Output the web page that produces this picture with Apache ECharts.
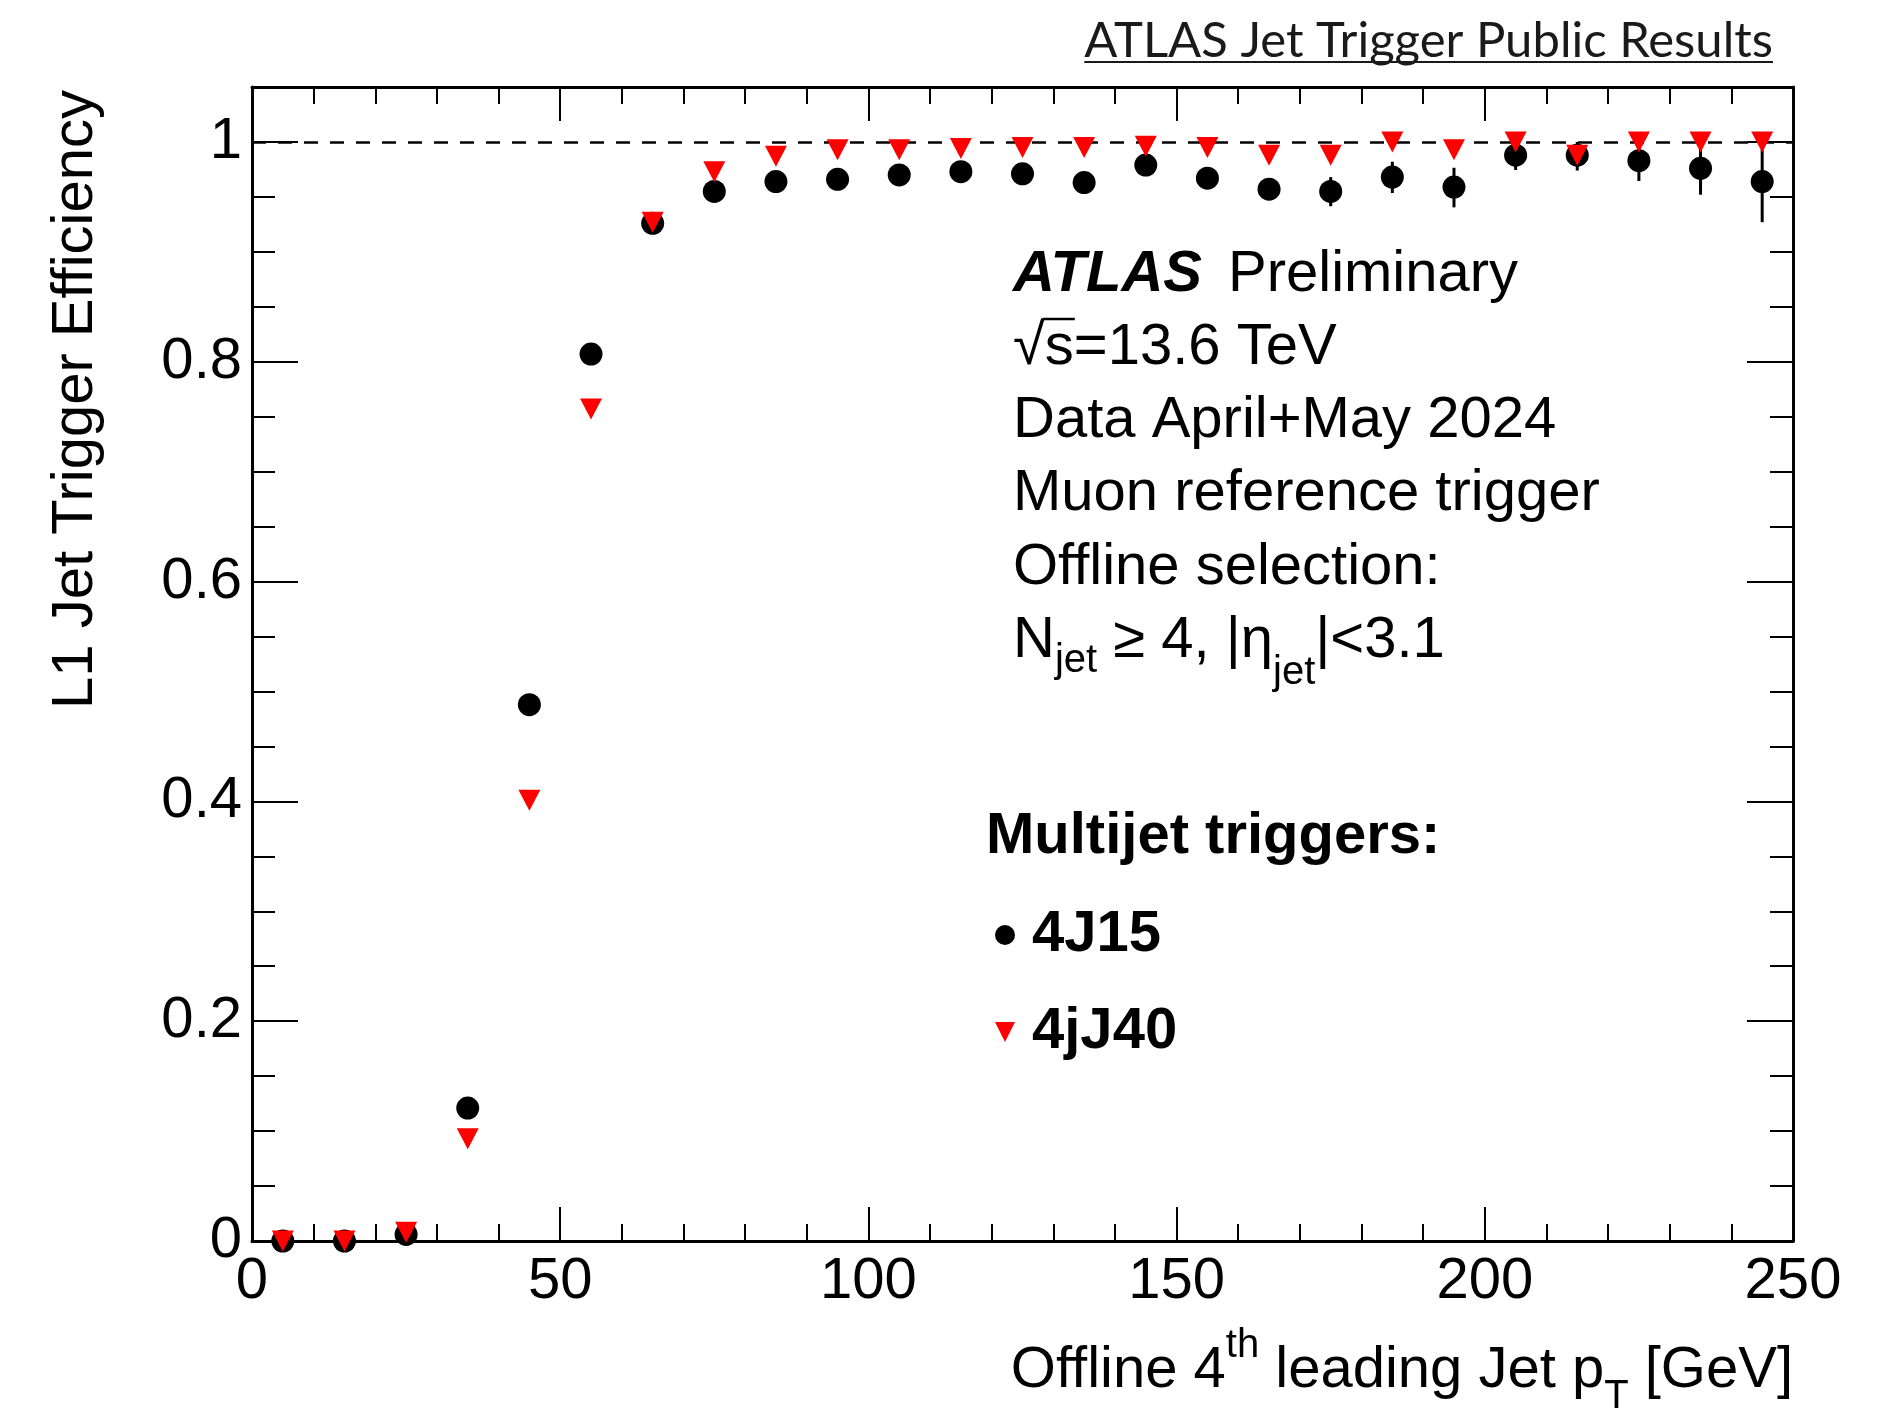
<!DOCTYPE html>
<html><head><meta charset="utf-8">
<script src="https://cdn.jsdelivr.net/npm/echarts@6/dist/echarts.min.js"></script>
<style>html,body{margin:0;padding:0;background:#fff}#c{width:1891px;height:1409px}</style>
</head><body><div id="c"></div>
<script>
// ---- data ----
const binCenters = [5,15,25,35,45,55,65,75,85,95,105,115,125,135,145,155,165,175,185,195,205,215,225,235,245];
const eff4J15 = [0.000,0.000,0.006,0.121,0.488,0.807,0.926,0.955,0.964,0.966,0.970,0.973,0.971,0.963,0.979,0.967,0.957,0.955,0.968,0.959,0.988,0.988,0.983,0.976,0.964];
const errLo4J15 = [0,0,0.003,0.005,0.006,0.006,0.005,0.005,0.005,0.005,0.005,0.006,0.006,0.007,0.007,0.008,0.009,0.0135,0.0145,0.0185,0.0135,0.014,0.0185,0.024,0.037];
const errHi4J15 = [0,0,0.003,0.005,0.006,0.006,0.005,0.005,0.005,0.005,0.005,0.006,0.006,0.007,0.007,0.008,0.009,0.013,0.014,0.0175,0.011,0.012,0.015,0.02,0.03];
const eff4jJ40 = [0.000,0.000,0.008,0.093,0.401,0.757,0.927,0.973,0.987,0.993,0.993,0.994,0.995,0.995,0.996,0.995,0.988,0.988,1.000,0.993,1.000,0.988,1.000,1.000,1.000];
const seriesNames = ['4J15','4jJ40'];
const xTickValues = [0,50,100,150,200,250];
const yTickValues = [0,0.2,0.4,0.6,0.8,1];
const yTickLabels = ['0','0.2','0.4','0.6','0.8','1'];

// ---- helpers ----
const FF = 'Liberation Sans';
const mctx = document.createElement('canvas').getContext('2d');
function fontStr(fs, fw, fst, ff){ return `${fst||'normal'} ${fw||'normal'} ${fs}px "${ff||FF}"`; }
function tw(t, fs, fw, fst, ff){ mctx.font = fontStr(fs,fw,fst,ff); mctx.textBaseline='alphabetic'; return mctx.measureText(t).width; }
function midOff(fs, fw, fst, ff){
  mctx.font = fontStr(fs,fw,fst,ff);
  mctx.textBaseline='alphabetic'; const a = mctx.measureText('H').actualBoundingBoxAscent;
  mctx.textBaseline='middle'; const b = mctx.measureText('H').actualBoundingBoxAscent;
  return a - b;
}
function txt(t, x, base, o){
  o = o||{};
  const fs=o.fs||58, fw=o.fw||'normal', fst=o.fst||'normal', ff=o.ff||FF;
  return {type:'text', x:x, y: base - midOff(fs,fw,fst,ff), z:100,
    style:{text:t, fontSize:fs, fontWeight:fw, fontStyle:fst, fontFamily:ff, fill:o.fill||'#000', align:o.align||'left', verticalAlign:'middle'}};
}
function run(parts, x, base, align){
  const ws = parts.map(p=>tw(p.t,p.fs||58,p.fw,p.fst));
  const total = ws.reduce((a,b)=>a+b,0);
  let cx = align==='right' ? x-total : x;
  const out=[];
  parts.forEach((p,i)=>{ out.push(txt(p.t,cx,base+(p.dy||0),p)); cx+=ws[i]; });
  return out;
}

// ---- text graphics ----
const g = [];
// header
const hdr = 'ATLAS Jet Trigger Public Results';
const hdrFs = 49;
const hdrW = tw(hdr,hdrFs,'normal','normal','Lato');
g.push(txt(hdr,1773,57,{fs:hdrFs,ff:'Lato',align:'right',fill:'#1a1a1a'}));
g.push({type:'line',z:100,shape:{x1:1773-hdrW,y1:62,x2:1773,y2:62},style:{stroke:'#1a1a1a',lineWidth:2}});
// y title
g.push({type:'text', x:76, y:90, rotation:Math.PI/2, z:100,
  style:{text:'L1 Jet Trigger Efficiency', fontSize:58, fontFamily:FF, fill:'#000', align:'right', verticalAlign:'middle'}});
// info block
const X0 = 1013;
g.push(txt('ATLAS',X0,291,{fw:'bold',fst:'italic'}));
g.push(txt('Preliminary',1228,291));
g.push(txt('\u221As=13.6 TeV',X0,364));
{ const w1=tw('\u221A',58), w2=tw('s',58);
  g.push({type:'line',z:100,shape:{x1:X0+w1-2,y1:364-45,x2:X0+w1+w2+1,y2:364-45},style:{stroke:'#000',lineWidth:2.5}}); }
g.push(txt('Data April+May 2024',X0,437));
g.push(txt('Muon reference trigger',X0,510));
g.push(txt('Offline selection:',X0,584));
run([{t:'N'},{t:'jet',fs:40,dy:15},{t:' \u2265 4, |\u03B7'},{t:'jet',fs:40,dy:27},{t:'|<3.1'}],X0,657).forEach(e=>g.push(e));
g.push(txt('Multijet triggers:',986,853,{fw:'bold'}));
// x title
run([{t:'Offline 4'},{t:'th',fs:40,dy:-30},{t:' leading Jet p'},{t:'T',fs:40,dy:21},{t:' [GeV]'}],1793,1387,'right').forEach(e=>g.push(e));

// ---- axes ----
const lineS = {show:true, onZero:false, lineStyle:{color:'#000', width:3}};
function xAx(pos, labels){
  return {type:'value', position:pos, min:0, max:250, interval:50,
    axisLine:lineS, splitLine:{show:false}, minorSplitLine:{show:false},
    axisTick:{show:true, inside:true, length:34, lineStyle:{color:'#000', width:2}},
    minorTick:{show:true, splitNumber:5, length:17, lineStyle:{color:'#000', width:2}},
    axisLabel:{show:labels, fontSize:58, fontFamily:FF, color:'#000', margin:12,
      formatter:v=> xTickValues.indexOf(v)>=0 ? String(v) : ''}};
}
function yAx(pos, interval, len, labels, line){
  return {type:'value', position:pos, min:0, max:1.05, interval:interval,
    axisLine: line ? lineS : {show:false, onZero:false}, splitLine:{show:false},
    axisTick:{show:true, inside:true, length:len, lineStyle:{color:'#000', width:2}},
    axisLabel:{show:labels, showMaxLabel:false, fontSize:58, fontFamily:FF, color:'#000', margin:10,
      formatter:v=>{ const i = yTickValues.findIndex(t=>Math.abs(t-v)<1e-6); return i>=0 ? yTickLabels[i] : ''; }}};
}

const errData = binCenters.map((x,i)=>[x, eff4J15[i]-errLo4J15[i], eff4J15[i]+errHi4J15[i]]);

const chart = echarts.init(document.getElementById('c'), null, {renderer:'canvas'});
chart.setOption({
  animation:false,
  backgroundColor:'#fff',
  grid:{left:252, right:98, top:87, bottom:168, containLabel:false},
  xAxis:[xAx('bottom',true), xAx('top',false)],
  yAxis:[yAx('left',0.2,46,true,true), yAx('left',0.05,23,false,false), yAx('right',0.2,46,false,true), yAx('right',0.05,23,false,false)],
  legend:{orient:'vertical', left:995, top:906, padding:0, itemWidth:20, itemHeight:20, itemGap:39, selectedMode:false,
    textStyle:{fontSize:58, fontWeight:'bold', fontFamily:FF, color:'#000', padding:[0,0,0,12]},
    data:[{name:seriesNames[0], icon:'circle', itemStyle:{opacity:1}},{name:seriesNames[1], icon:'path://M0,0L20,0L10,20Z', itemStyle:{opacity:1}}]},
  series:[
    {type:'custom', name:'err', xAxisIndex:0, yAxisIndex:0, data:errData, z:2, encode:{x:0, y:[1,2]},
      renderItem:(params, api)=>{
        const p1 = api.coord([api.value(0), api.value(1)]);
        const p2 = api.coord([api.value(0), api.value(2)]);
        return {type:'line', shape:{x1:p1[0],y1:p1[1],x2:p2[0],y2:p2[1]}, style:{stroke:'#000', lineWidth:3}};
      },
      markLine:{silent:true, z:1, symbol:'none', label:{show:false}, animation:false,
        lineStyle:{type:[14,12], color:'#000', width:2.5}, data:[{yAxis:1}]}},
    {type:'scatter', name:seriesNames[0], xAxisIndex:0, yAxisIndex:0, clip:false, z:3,
      data:binCenters.map((x,i)=>[x,eff4J15[i]]), symbol:'circle', symbolSize:23, itemStyle:{color:'#000', opacity:1}},
    {type:'scatter', name:seriesNames[1], xAxisIndex:0, yAxisIndex:0, clip:false, z:4,
      data:binCenters.map((x,i)=>[x,eff4jJ40[i]]), symbol:'triangle', symbolSize:[22,21], symbolRotate:180, itemStyle:{color:'#ff0000', opacity:1}}
  ],
  graphic:g
});
</script></body></html>
